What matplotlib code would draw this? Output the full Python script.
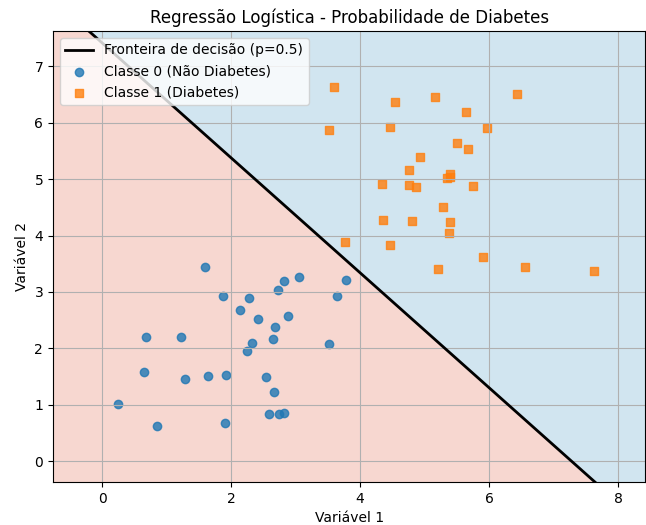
import numpy as np
import matplotlib.pyplot as plt
from matplotlib.colors import ListedColormap

# classe 0 (nao diabetes)
x0 = [1.60, 3.06, 2.82, 3.78, 2.72, 1.87, 2.28, 3.64, 2.14, 2.41,
      2.88, 2.68, 0.68, 1.22, 2.65, 2.33, 3.51, 2.25, 0.65, 1.28,
      1.65, 1.92, 2.54, 2.67, 0.24, 2.58, 2.75, 2.82, 0.85, 1.90]
y0 = [3.45, 3.26, 3.19, 3.22, 3.03, 2.93, 2.89, 2.93, 2.68, 2.52,
      2.58, 2.37, 2.20, 2.20, 2.16, 2.10, 2.08, 1.95, 1.58, 1.46,
      1.51, 1.53, 1.49, 1.23, 1.02, 0.84, 0.83, 0.85, 0.62, 0.68]

# classe 1 (diabetes)
x1 = [3.60, 6.43, 5.16, 4.54, 5.64, 3.51, 4.46, 5.97, 5.50, 5.67,
      4.93, 4.76, 5.39, 5.35, 5.40, 4.34, 4.76, 4.87, 5.75, 5.29,
      4.36, 4.81, 5.39, 5.37, 3.77, 4.46, 5.91, 5.20, 6.55, 7.62]
y1 = [6.63, 6.51, 6.45, 6.37, 6.19, 5.88, 5.93, 5.90, 5.65, 5.53,
      5.40, 5.16, 5.10, 5.02, 5.04, 4.92, 4.90, 4.87, 4.88, 4.50,
      4.28, 4.26, 4.24, 4.05, 3.89, 3.83, 3.62, 3.41, 3.44, 3.38]

# coeficientes do modelo (estimados da fronteira)
coef = [1.02, 1.0]
intercept = -7.42

x_min, x_max = -0.76, 8.42
y_min, y_max = -0.37, 7.63

xx, yy = np.meshgrid(np.linspace(x_min, x_max, 400), np.linspace(y_min, y_max, 400))
Z = 1 / (1 + np.exp(-(coef[0] * xx + coef[1] * yy + intercept)))

fig = plt.figure(figsize=(6.46, 5.25), dpi=100)
ax = fig.add_axes([0.082, 0.082, 0.917, 0.859])

ax.contourf(xx, yy, Z, levels=[0, 0.5, 1], cmap=ListedColormap(['#f7d7d0', '#d1e5f0']))

xs = np.array([x_min, x_max])
ax.plot(xs, -(coef[0] * xs + intercept) / coef[1], color='black', linewidth=2,
        label='Fronteira de decisão (p=0.5)')

ax.scatter(x0, y0, color='tab:blue', marker='o', alpha=0.8, label='Classe 0 (Não Diabetes)')
ax.scatter(x1, y1, color='tab:orange', marker='s', alpha=0.8, label='Classe 1 (Diabetes)')

ax.set_xlim(x_min, x_max)
ax.set_ylim(y_min, y_max)
ax.set_title('Regressão Logística - Probabilidade de Diabetes')
ax.set_xlabel('Variável 1')
ax.set_ylabel('Variável 2')
ax.legend(loc='upper left')
ax.grid(True)

fig.savefig('out.png', dpi=100)
